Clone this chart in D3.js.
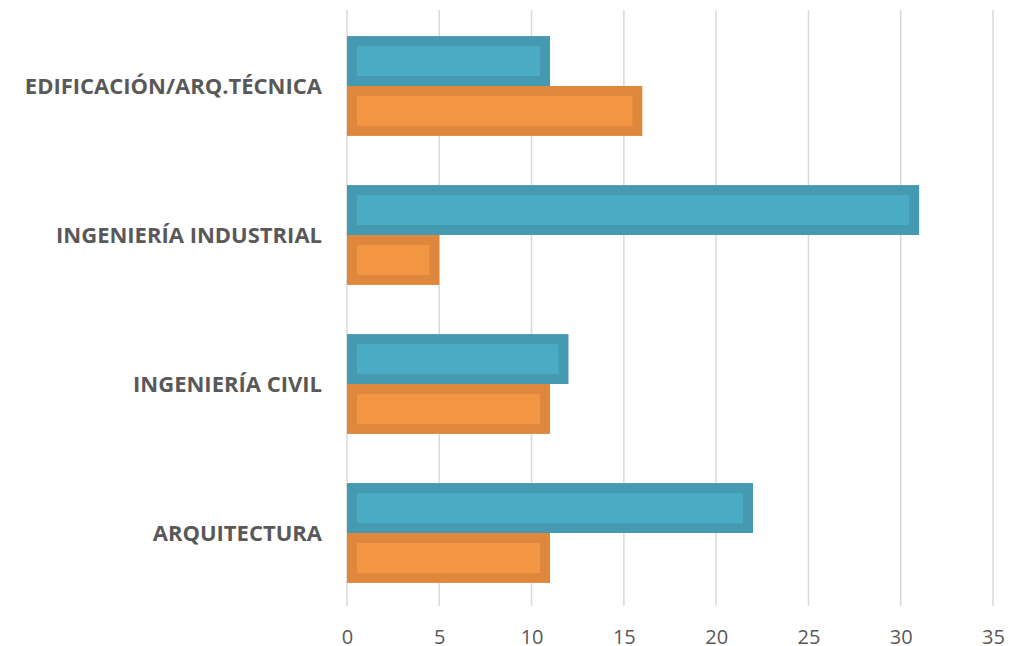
<!DOCTYPE html>
<html>
<head>
    <meta charset="utf-8">
    <script type="text/javascript" src="https://cdn.jsdelivr.net/npm/d3@7"></script>
    <style>
        body { margin: 0; background: #fff; }
    </style>
</head>
<body>
    <div id="viz"></div>
    <script type="text/javascript">

    // data, top to bottom as shown
    var categories = ["EDIFICACIÓN/ARQ.TÉCNICA", "INGENIERÍA INDUSTRIAL", "INGENIERÍA CIVIL", "ARQUITECTURA"];
    var seriesA = [11, 31, 12, 22];   // blue
    var seriesB = [16, 5, 11, 11];    // orange
    var xTicks = [0, 5, 10, 15, 20, 25, 30, 35];

    var width = 1010, height = 646;
    var plotLeft = 347, plotRight = 993, plotTop = 11.5, plotBottom = 607.5;
    var border = 10; // thick darker rim round each bar

    var svg = d3.select("#viz")
        .append("svg")
        .attr("width", width)
        .attr("height", height);

    var x = d3.scaleLinear().domain([0, 35]).range([plotLeft, plotRight]);
    var y = d3.scaleBand().domain(categories).range([plotTop, plotBottom])
        .paddingInner(0.33).paddingOuter(0.165);
    var sub = d3.scaleBand().domain(["a", "b"]).range([0, y.bandwidth()]);

    // vertical gridlines
    svg.append("g").selectAll("line")
        .data(xTicks)
        .enter().append("line")
        .attr("x1", function(d) { return x(d); })
        .attr("x2", function(d) { return x(d); })
        .attr("y1", 10)
        .attr("y2", 606)
        .style("stroke", "#d9d9d9")
        .style("stroke-width", 1.5);

    // tick labels via axis
    var axis = svg.append("g")
        .attr("transform", "translate(0,637)")
        .call(d3.axisBottom(x).tickValues(xTicks).tickSize(0).tickPadding(0));
    axis.select(".domain").remove();
    axis.selectAll("text")
        .attr("y", 0)
        .attr("dy", "0.35em")
        .style("font-family", "'Open Sans', sans-serif")
        .style("font-size", "20px")
        .style("fill", "#595959");

    function drawSeries(vals, key, dark, light) {
        var g = svg.append("g");
        vals.forEach(function(v, i) {
            var y0 = y(categories[i]) + sub(key);
            var h = sub.bandwidth();
            var w = x(v) - x(0);
            g.append("rect")
                .attr("x", x(0)).attr("y", y0)
                .attr("width", w).attr("height", h)
                .style("fill", dark);
            g.append("rect")
                .attr("x", x(0) + border).attr("y", y0 + border)
                .attr("width", Math.max(0, w - 2 * border))
                .attr("height", h - 2 * border)
                .style("fill", light);
        });
    }

    drawSeries(seriesA, "a", "#4599b1", "#4aabc5");
    drawSeries(seriesB, "b", "#e0873e", "#f39644");

    // category labels
    svg.append("g").selectAll("text")
        .data(categories)
        .enter().append("text")
        .attr("x", 322)
        .attr("y", function(d) { return y(d) + y.bandwidth() / 2; })
        .attr("dy", "0.35em")
        .attr("text-anchor", "end")
        .style("font-family", "'Open Sans', sans-serif")
        .style("font-weight", "bold")
        .style("font-size", "22px")
        .style("fill", "#595959")
        .text(function(d) { return d; });

    </script>
</body>
</html>
